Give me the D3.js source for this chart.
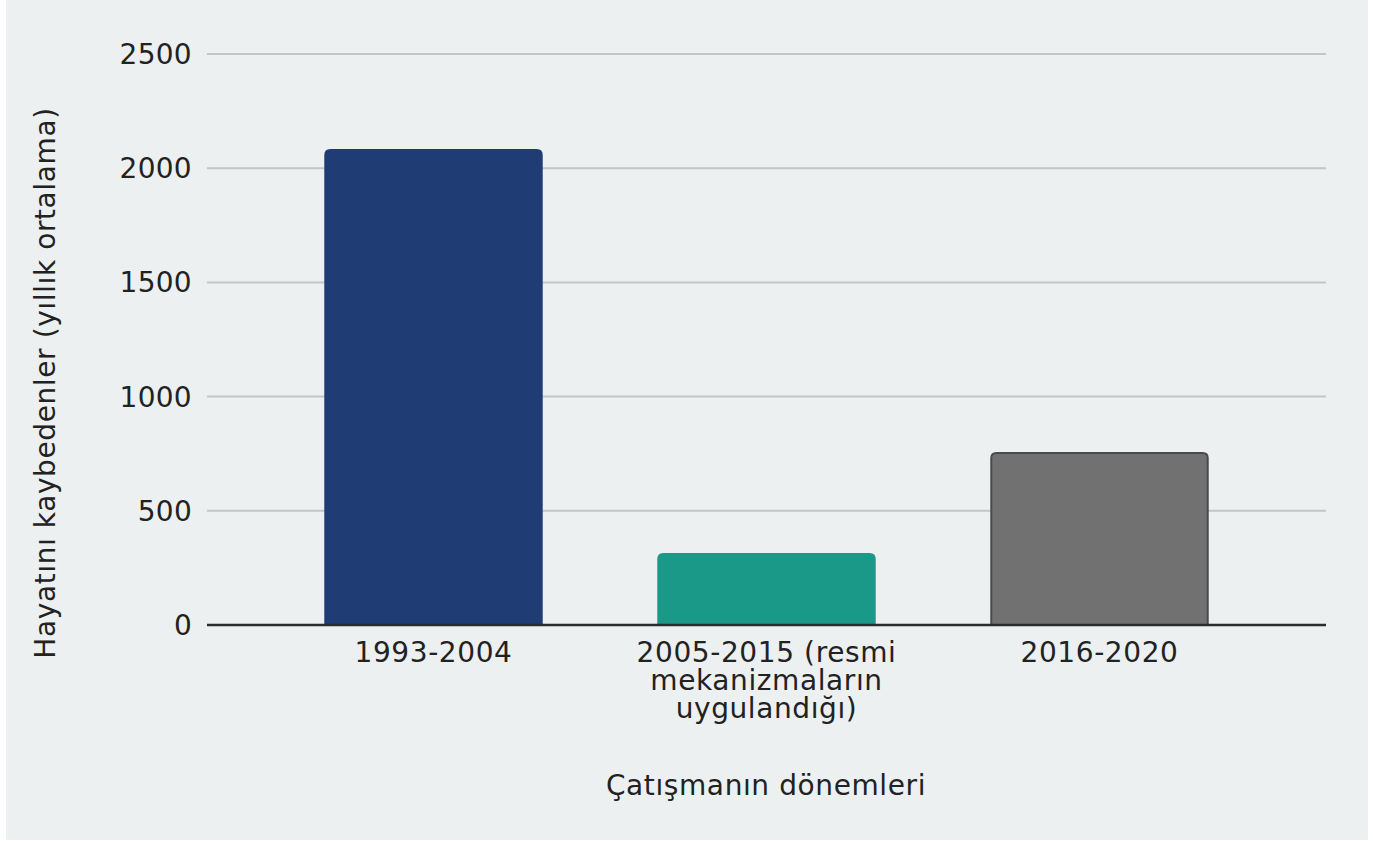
<!DOCTYPE html>
<html>
<head>
<meta charset="utf-8">
<script src="https://cdn.jsdelivr.net/npm/d3@7"></script>
<style>
  html, body { margin: 0; padding: 0; background: #ffffff; }
  svg { display: block; }
  text { font-family: "DejaVu Sans", Verdana, sans-serif; fill: #222222; }
</style>
</head>
<body>
<div id="chart"></div>
<script>
// periods of the conflict and yearly average deaths
var categories = [
  ["1993-2004"],
  ["2005-2015 (resmi", "mekanizmaların", "uygulandığı)"],
  ["2016-2020"]
];
var values = [2080, 311, 753];
var barColors = ["#1f3d74", "#1a9988", "#717171"];
var barStrokes = ["#1f3d74", "#1a9988", "#4a4a4a"];
var yTicks = [0, 500, 1000, 1500, 2000, 2500];

var width = 1373;
var height = 841;

var svg = d3.select("#chart")
  .append("svg")
  .attr("width", width)
  .attr("height", height);

// panel background
svg.append("rect")
  .attr("x", 6).attr("y", 0)
  .attr("width", 1362).attr("height", 840)
  .attr("fill", "#ecf0f1");

var plotLeft = 207, plotRight = 1326;

var x = d3.scaleBand()
  .domain(d3.range(values.length))
  .range([267, 1266])
  .paddingInner(0.35)
  .paddingOuter(0.175);

var y = d3.scaleLinear()
  .domain([0, 2500])
  .range([625, 54]);

// gridlines
svg.append("g")
  .selectAll("line")
  .data(yTicks.filter(function (d) { return d > 0; }))
  .enter()
  .append("line")
  .attr("x1", plotLeft).attr("x2", plotRight)
  .attr("y1", function (d) { return y(d); })
  .attr("y2", function (d) { return y(d); })
  .attr("stroke", "#c3c6c8")
  .attr("stroke-width", 2);

// y tick labels
svg.append("g")
  .selectAll("text")
  .data(yTicks)
  .enter()
  .append("text")
  .attr("x", 192)
  .attr("y", function (d) { return y(d); })
  .attr("dy", "0.36em")
  .attr("text-anchor", "end")
  .style("font-size", "28px")
  .style("letter-spacing", "0.3px")
  .text(function (d) { return d; });

// bars with rounded top corners
function barPath(x0, w, yTop, yBase, r) {
  return "M" + x0 + "," + yBase +
    "V" + (yTop + r) +
    "Q" + x0 + "," + yTop + " " + (x0 + r) + "," + yTop +
    "H" + (x0 + w - r) +
    "Q" + (x0 + w) + "," + yTop + " " + (x0 + w) + "," + (yTop + r) +
    "V" + yBase + "Z";
}

svg.append("g")
  .selectAll("path")
  .data(values)
  .enter()
  .append("path")
  .attr("d", function (d, i) {
    return barPath(x(i), x.bandwidth(), y(d), y(0), 5);
  })
  .attr("fill", function (d, i) { return barColors[i]; })
  .attr("stroke", function (d, i) { return barStrokes[i]; })
  .attr("stroke-width", 2);

// baseline
svg.append("line")
  .attr("x1", plotLeft).attr("x2", plotRight)
  .attr("y1", y(0)).attr("y2", y(0))
  .attr("stroke", "#2b2b2b")
  .attr("stroke-width", 2.5);

// x tick labels
var xLabels = svg.append("g")
  .selectAll("text")
  .data(categories)
  .enter()
  .append("text")
  .attr("text-anchor", "middle")
  .style("font-size", "28px")
  .style("letter-spacing", "0.6px")
  .attr("transform", function (d, i) {
    return "translate(" + (x(i) + x.bandwidth() / 2) + ",662)";
  });

xLabels.selectAll("tspan")
  .data(function (d) { return d; })
  .enter()
  .append("tspan")
  .attr("x", 0)
  .attr("y", function (d, i) { return i * 28; })
  .text(function (d) { return d; });

// axis titles
svg.append("text")
  .attr("x", 766)
  .attr("y", 795)
  .attr("text-anchor", "middle")
  .style("font-size", "28px")
  .style("letter-spacing", "0.6px")
  .text("Çatışmanın dönemleri");

svg.append("text")
  .attr("transform", "translate(55,383) rotate(-90)")
  .attr("text-anchor", "middle")
  .style("font-size", "28px")
  .style("letter-spacing", "0.6px")
  .text("Hayatını kaybedenler (yıllık ortalama)");
</script>
</body>
</html>
